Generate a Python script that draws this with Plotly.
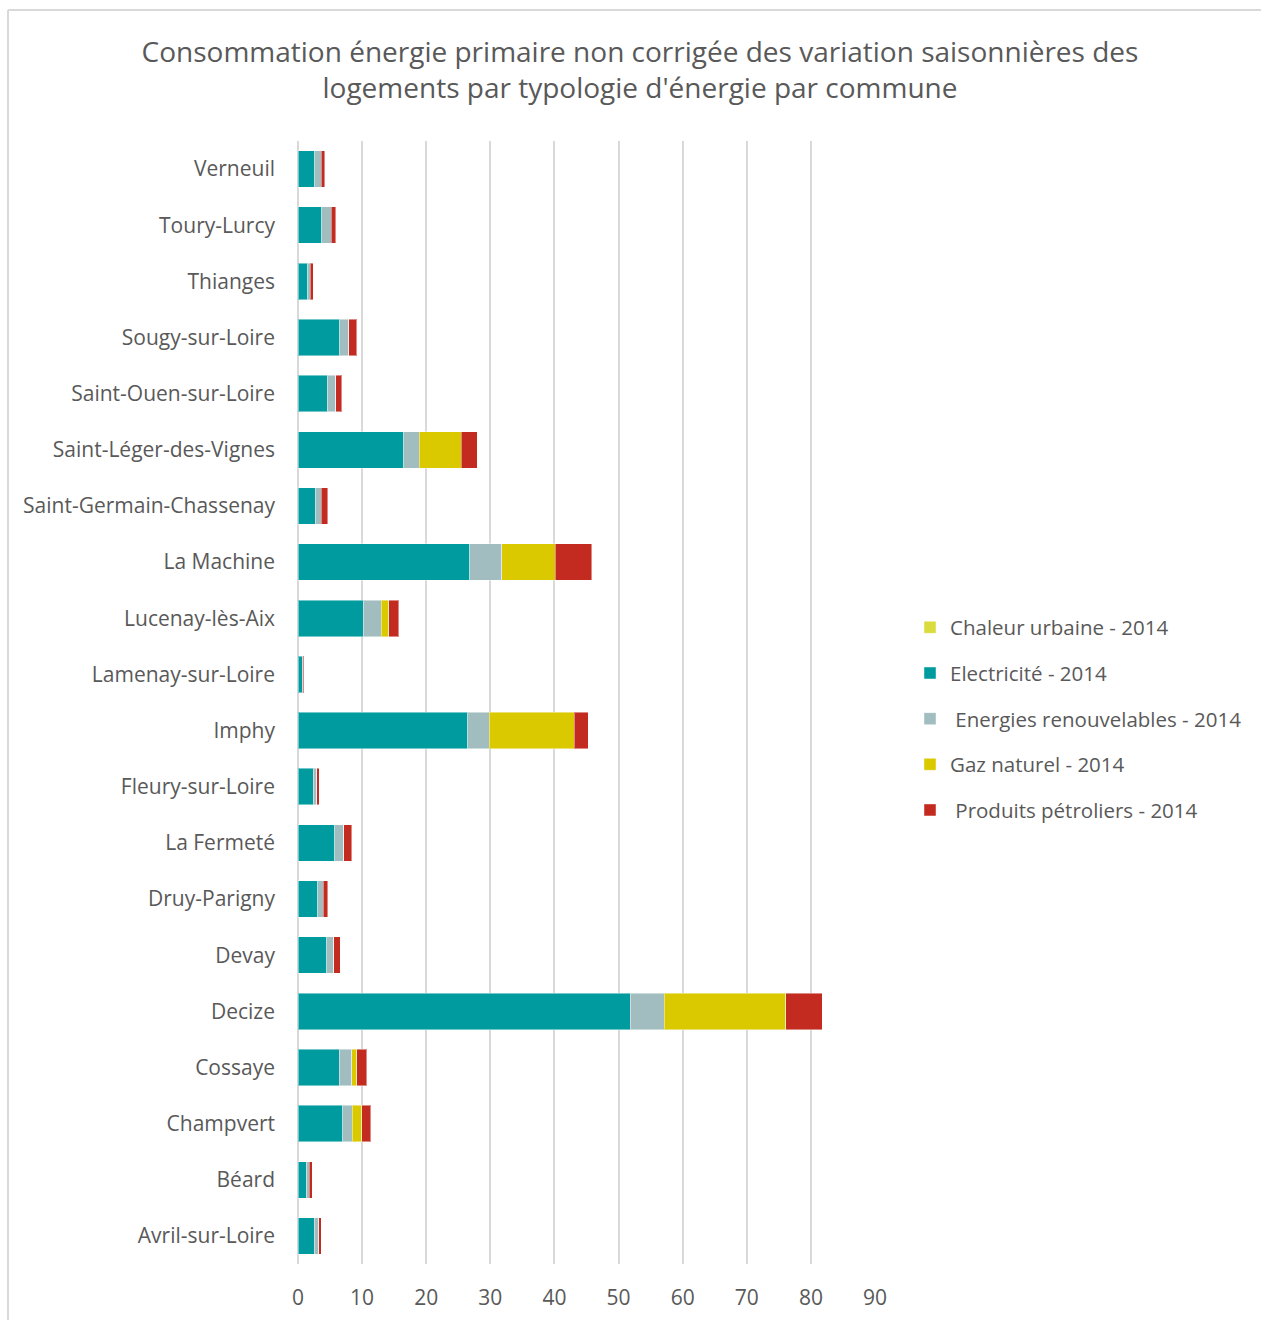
import plotly.graph_objects as go

# Communes, listed top to bottom
communes = [
    "Verneuil", "Toury-Lurcy", "Thianges", "Sougy-sur-Loire", "Saint-Ouen-sur-Loire",
    "Saint-Léger-des-Vignes", "Saint-Germain-Chassenay", "La Machine", "Lucenay-lès-Aix",
    "Lamenay-sur-Loire", "Imphy", "Fleury-sur-Loire", "La Fermeté", "Druy-Parigny",
    "Devay", "Decize", "Cossaye", "Champvert", "Béard", "Avril-sur-Loire",
]

# Consumption by energy type (same order as communes)
chaleur_urbaine = [0] * 20
electricite = [2.6, 3.7, 1.5, 6.5, 4.6, 16.5, 2.7, 26.8, 10.2, 0.7,
               26.5, 2.4, 5.7, 3.05, 4.45, 51.8, 6.4, 7.0, 1.3, 2.5]
renouvelables = [1.0, 1.45, 0.4, 1.4, 1.25, 2.4, 0.95, 4.95, 2.75, 0.1,
                 3.3, 0.5, 1.4, 0.9, 1.1, 5.3, 1.95, 1.5, 0.45, 0.75]
gaz_naturel = [0, 0, 0, 0, 0, 6.55, 0, 8.35, 1.2, 0,
               13.25, 0, 0, 0, 0, 19.0, 0.85, 1.45, 0, 0]
petroliers = [0.55, 0.75, 0.5, 1.25, 1.0, 2.5, 1.0, 5.7, 1.6, 0.1,
              2.25, 0.45, 1.25, 0.7, 1.05, 5.7, 1.5, 1.4, 0.45, 0.4]

series = [
    ("Chaleur urbaine - 2014", chaleur_urbaine, "#DADC3E"),
    ("Electricité - 2014", electricite, "#009B9E"),
    ("\u00a0Energies renouvelables - 2014", renouvelables, "#A2BDBF"),
    ("Gaz naturel - 2014", gaz_naturel, "#DBC900"),
    ("\u00a0Produits pétroliers - 2014", petroliers, "#C42B20"),
]

FONT = "Open Sans"
GREY_TEXT = "#595959"
GRID = "#d9d9d9"
W, H = 1261, 1320

fig = go.Figure()
for i, (name, vals, color) in enumerate(series):
    fig.add_trace(go.Bar(
        y=communes, x=vals, name=name, orientation="h",
        marker=dict(color=color, line=dict(color="rgba(255,255,255,0.45)", width=1)),
        legendgroup=f"g{i}",
    ))

fig.update_layout(
    width=W, height=H,
    barmode="stack", bargap=0.35,
    paper_bgcolor="white", plot_bgcolor="white",
    margin=dict(l=298, r=386, t=141, b=56),
    font=dict(family=FONT, color=GREY_TEXT, size=21),
    title=dict(
        text="Consommation énergie primaire non corrigée des variation saisonnières des<br>"
             "logements par typologie d'énergie par commune",
        x=640 / W, xref="container", xanchor="center",
        y=1 - 62 / H, yref="container", yanchor="top",
        font=dict(family=FONT, size=28, color=GREY_TEXT),
    ),
    xaxis=dict(
        range=[0, 90], tickmode="linear", tick0=0, dtick=10,
        showgrid=True, gridcolor=GRID, gridwidth=2,
        zeroline=True, zerolinecolor=GRID, zerolinewidth=2,
        showline=False, ticks="", ticklabelstandoff=19, automargin=False,
        tickfont=dict(size=21, color=GREY_TEXT),
    ),
    yaxis=dict(
        autorange="reversed", showgrid=False, zeroline=False, showline=False,
        ticks="", ticklabelstandoff=22, automargin=False,
        tickfont=dict(size=21, color=GREY_TEXT),
    ),
    legend=dict(
        x=910 / W, xanchor="left", xref="container",
        y=1 - 719 / H, yanchor="middle", yref="container",
        traceorder="grouped", tracegroupgap=16,
        font=dict(size=20.5, color=GREY_TEXT),
        itemwidth=30,
    ),
    showlegend=True,
)

# light frame around the chart (left and top edges), in pixel positions
px_x = lambda p: (p - 298) / (W - 298 - 386)
px_y = lambda p: (H - 56 - p) / (H - 141 - 56)
fig.add_shape(type="line", xref="paper", yref="paper",
              x0=px_x(8), x1=px_x(8), y0=px_y(H), y1=px_y(10),
              line=dict(color=GRID, width=2))
fig.add_shape(type="line", xref="paper", yref="paper",
              x0=px_x(8), x1=px_x(W), y0=px_y(10), y1=px_y(10),
              line=dict(color=GRID, width=2))

fig.write_html("out.html")
